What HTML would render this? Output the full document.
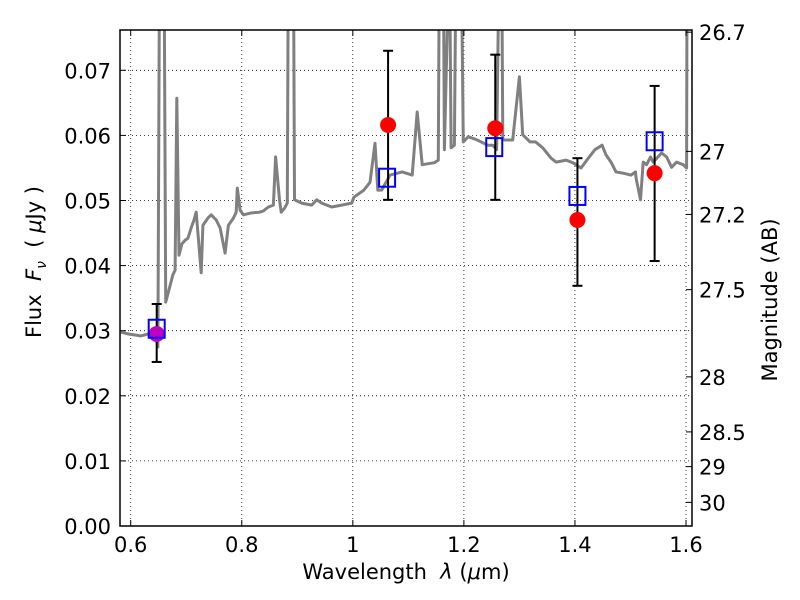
<!DOCTYPE html>
<html><head><meta charset="utf-8"><style>
body{margin:0;background:#fff;}
svg{display:block;font-family:"DejaVu Sans","Liberation Sans",sans-serif;}
</style></head><body>
<svg id="chart" width="800" height="600"></svg>
<script>
const specWave=[0.582,0.596,0.618,0.636,0.645,0.649,0.652,0.660,0.663,0.669,0.676,0.680,0.683,0.687,0.692,0.698,0.703,0.709,0.714,0.718,0.727,0.730,0.739,0.745,0.754,0.761,0.770,0.776,0.785,0.790,0.792,0.797,0.803,0.817,0.832,0.839,0.848,0.857,0.861,0.868,0.871,0.877,0.882,0.884,0.893,0.895,0.908,0.926,0.935,0.944,0.962,0.980,0.998,1.002,1.020,1.031,1.040,1.045,1.052,1.067,1.089,1.107,1.116,1.125,1.147,1.154,1.156,1.163,1.165,1.174,1.177,1.183,1.186,1.195,1.199,1.208,1.224,1.243,1.252,1.259,1.264,1.268,1.270,1.288,1.300,1.306,1.319,1.329,1.342,1.357,1.366,1.384,1.396,1.411,1.424,1.436,1.449,1.456,1.465,1.474,1.487,1.501,1.509,1.510,1.518,1.523,1.529,1.536,1.541,1.556,1.565,1.574,1.583,1.595,1.601,1.602,1.62];
const specFlux=[0.0298,0.0295,0.0292,0.0296,0.0292,0.0275,0.09,0.09,0.0344,0.0363,0.0386,0.0393,0.0657,0.0416,0.0433,0.0439,0.0442,0.0458,0.0470,0.0482,0.0389,0.0462,0.0473,0.0478,0.0470,0.0458,0.0419,0.0462,0.0473,0.0482,0.0519,0.0485,0.0478,0.0481,0.0482,0.0484,0.0490,0.0493,0.0567,0.0501,0.0482,0.0488,0.0496,0.09,0.09,0.0501,0.0496,0.0493,0.0501,0.0496,0.0490,0.0493,0.0496,0.0505,0.0516,0.0528,0.0588,0.0516,0.0516,0.0539,0.0544,0.0539,0.0636,0.0555,0.0558,0.0562,0.09,0.09,0.0578,0.09,0.0581,0.0585,0.09,0.09,0.0590,0.0598,0.0593,0.0585,0.0585,0.0578,0.09,0.09,0.0593,0.0593,0.0690,0.0601,0.0590,0.0590,0.0581,0.0565,0.0559,0.0562,0.0558,0.0550,0.0565,0.0578,0.0585,0.0570,0.0559,0.0544,0.0542,0.0539,0.0544,0.0535,0.0501,0.0559,0.0555,0.0567,0.0559,0.0573,0.0567,0.0551,0.0559,0.0555,0.0550,0.09,0.09];
const photWave=[0.6468,1.0635,1.2565,1.4045,1.5435];
const photFlux=[0.0295,0.0616,0.0611,0.0470,0.0542];
const photLo=[0.0252,0.0501,0.0501,0.0369,0.0407];
const photHi=[0.0341,0.0730,0.0724,0.0565,0.0676];
const photColor=['#bf00bf','red','red','red','red'];
const modelWave=[0.6468,1.0617,1.2547,1.4045,1.5435];
const modelFlux=[0.0303,0.0535,0.0582,0.0507,0.0591];
const xTicks=[0.6,0.8,1.0,1.2,1.4,1.6];
const xTickLabels=['0.6','0.8','1','1.2','1.4','1.6'];
const yTicks=[0,0.01,0.02,0.03,0.04,0.05,0.06,0.07];
const magTicks=[26.7,27,27.2,27.5,28,28.5,29,30];
const magLabels=['26.7','27','27.2','27.5','28','28.5','29','30'];

const L=120,R=692,T=30,B=526;
const xmin=0.6-10.7/555,xmax=1.6+6/555,ymin=0,ymax=(B-T)/6510;
const X=v=>L+(v-xmin)/(xmax-xmin)*(R-L);
const Y=v=>B-(v-ymin)/(ymax-ymin)*(B-T);
const NS='http://www.w3.org/2000/svg';
const svg=document.getElementById('chart');
function mk(tag,attrs,parent){const e=document.createElementNS(NS,tag);for(const k in attrs)e.setAttribute(k,attrs[k]);(parent||svg).appendChild(e);return e;}

const defs=mk('defs',{});
const cp=mk('clipPath',{id:'pc'},defs);mk('rect',{x:L,y:T,width:R-L,height:B-T},cp);

const grid=mk('g',{});


xTicks.forEach(t=>{mk('line',{x1:X(t),x2:X(t),y1:T,y2:B,stroke:'#000','stroke-width':0.8,'stroke-dasharray':'1,3'},grid);});
yTicks.forEach(t=>{mk('line',{x1:L,x2:R,y1:Y(t),y2:Y(t),stroke:'#000','stroke-width':0.8,'stroke-dasharray':'1,3'},grid);});

const clipG=mk('g',{'clip-path':'url(#pc)'});
let d='';specWave.forEach((w,i)=>{d+=(i?'L':'M')+X(w).toFixed(1)+','+Y(specFlux[i]).toFixed(1);});
const sp=mk('path',{d:d,fill:'none',stroke:'#808080','stroke-width':3,'stroke-linejoin':'round'},clipG);



photWave.forEach((w,i)=>{
  const g=mk('g',{},clipG);
  
  
  const x=X(w);
  mk('line',{x1:x,x2:x,y1:Y(photLo[i]),y2:Y(photHi[i]),stroke:'#000','stroke-width':2},g);
  mk('line',{x1:x-5,x2:x+5,y1:Y(photLo[i]),y2:Y(photLo[i]),stroke:'#000','stroke-width':2},g);
  mk('line',{x1:x-5,x2:x+5,y1:Y(photHi[i]),y2:Y(photHi[i]),stroke:'#000','stroke-width':2},g);
  mk('circle',{cx:x,cy:Y(photFlux[i]),r:8,fill:photColor[i]},g);
});
modelWave.forEach((w,i)=>{
  const r=mk('rect',{x:X(w)-8,y:Y(modelFlux[i])-9,width:16,height:18,fill:'none',stroke:'#0000ff','stroke-width':2},clipG);
  
  
});

const fr=mk('rect',{x:L,y:T,width:R-L,height:B-T,fill:'none',stroke:'#000','stroke-width':1.5});



xTicks.forEach((t,i)=>{
  const x=X(t);
  mk('line',{x1:x,x2:x,y1:B,y2:B-6,stroke:'#000'});
  mk('line',{x1:x,x2:x,y1:T,y2:T+6,stroke:'#000'});
  const tx=mk('text',{x:x,y:552,'font-size':21,'text-anchor':'middle'});
  tx.textContent=xTickLabels[i];
  
  
});
yTicks.forEach(t=>{
  const y=Y(t);
  mk('line',{x1:L,x2:L+6,y1:y,y2:y,stroke:'#000'});
  const tx=mk('text',{x:111,y:y+8,'font-size':21,'text-anchor':'end'});
  tx.textContent=t.toFixed(2);
  
  
});
magTicks.forEach((m,i)=>{
  const y=Y(Math.pow(10,(23.9-m)/2.5));
  mk('line',{x1:R,x2:R-6,y1:y,y2:y,stroke:'#000'});
  const tx=mk('text',{x:699,y:y+8,'font-size':21,'text-anchor':'start'});
  tx.textContent=magLabels[i];
  
  
});
</script>
<div style="position:absolute;left:0;top:0;width:800px;height:600px;pointer-events:none;">
<div style="position:absolute;left:0;width:812px;top:560px;text-align:center;font:21px 'DejaVu Sans','Liberation Sans',sans-serif;">Wavelength &nbsp;<i>λ</i> (<i>μ</i>m)</div>
<div style="position:absolute;left:36px;top:262px;width:0;height:0;"><div style="position:absolute;transform:translate(-50%,-50%) rotate(-90deg);white-space:nowrap;font:21px 'DejaVu Sans','Liberation Sans',sans-serif;">Flux &nbsp;<i>F<sub style="font-size:14px">ν</sub></i> &nbsp;( <i>μ</i>Jy )</div></div>
<div style="position:absolute;left:770px;top:300px;width:0;height:0;"><div style="position:absolute;transform:translate(-50%,-50%) rotate(-90deg);white-space:nowrap;font:21px 'DejaVu Sans','Liberation Sans',sans-serif;">Magnitude (AB)</div></div>
</div>
</body></html>
